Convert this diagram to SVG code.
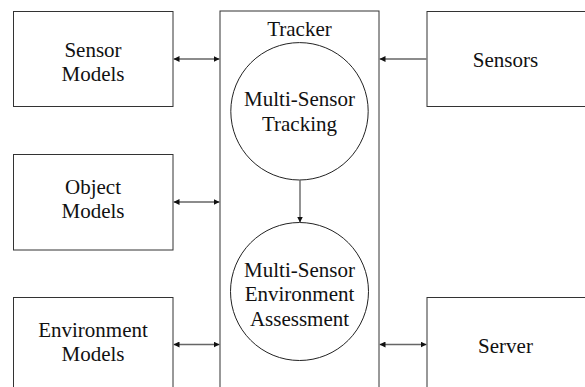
<svg xmlns="http://www.w3.org/2000/svg" width="585" height="387" viewBox="0 0 585 387">
<defs>
<style>
.box{fill:#fff;stroke:#333;stroke-width:1}
.circ{fill:#fff;stroke:#222;stroke-width:1}
.lbl{font-family:"Liberation Serif","Times New Roman",serif;font-size:21px;fill:#111;text-anchor:middle}
.con{stroke:#666;stroke-width:1.4;fill:none}
</style>
<marker id="ah" viewBox="0 0 10 10" refX="10" refY="5" markerWidth="6" markerHeight="6" markerUnits="userSpaceOnUse" orient="auto-start-reverse">
<path d="M0,0 L10,5 L0,10 z" fill="#111"/>
</marker>
</defs>
<rect width="585" height="387" fill="#fff"/>
<g id="tracker">
<rect class="box" x="220" y="11" width="159" height="390"/>
<text class="lbl" x="299.5" y="35.5">Tracker</text>
</g>
<g id="sensor-models">
<rect class="box" x="13.5" y="11.5" width="159.5" height="95"/>
<text class="lbl" x="93" y="56.5">Sensor</text>
<text class="lbl" x="93" y="80.5">Models</text>
</g>
<g id="object-models">
<rect class="box" x="13.5" y="154.5" width="159.5" height="95.5"/>
<text class="lbl" x="93" y="194">Object</text>
<text class="lbl" x="93" y="218">Models</text>
</g>
<g id="environment-models">
<rect class="box" x="13.5" y="297.5" width="159.5" height="100"/>
<text class="lbl" x="93" y="336.5">Environment</text>
<text class="lbl" x="93" y="361">Models</text>
</g>
<g id="sensors">
<rect class="box" x="427" y="11.5" width="170" height="95"/>
<text class="lbl" x="505.5" y="66.5">Sensors</text>
</g>
<g id="server">
<rect class="box" x="427" y="297.5" width="170" height="100"/>
<text class="lbl" x="505.5" y="353">Server</text>
</g>
<g id="multi-sensor-tracking">
<circle class="circ" cx="299.5" cy="111.3" r="68.7"/>
<text class="lbl" x="299.5" y="106">Multi-Sensor</text>
<text class="lbl" x="299.5" y="130.5">Tracking</text>
</g>
<g id="multi-sensor-environment-assessment">
<circle class="circ" cx="299.5" cy="291.5" r="69"/>
<text class="lbl" x="299.5" y="277">Multi-Sensor</text>
<text class="lbl" x="299.5" y="301">Environment</text>
<text class="lbl" x="299.5" y="325.5">Assessment</text>
</g>
<g id="connectors">
<line class="con" x1="173.5" y1="59" x2="219.5" y2="59" marker-start="url(#ah)" marker-end="url(#ah)"/>
<line class="con" x1="173.5" y1="202" x2="219.5" y2="202" marker-start="url(#ah)" marker-end="url(#ah)"/>
<line class="con" x1="173.5" y1="344.5" x2="219.5" y2="344.5" marker-start="url(#ah)" marker-end="url(#ah)"/>
<line class="con" x1="426.5" y1="59" x2="379.5" y2="59" marker-end="url(#ah)"/>
<line class="con" x1="379.5" y1="344.5" x2="426.5" y2="344.5" marker-start="url(#ah)" marker-end="url(#ah)"/>
<line class="con" x1="300" y1="180" x2="300" y2="222.5" marker-end="url(#ah)"/>
</g>
</svg>
